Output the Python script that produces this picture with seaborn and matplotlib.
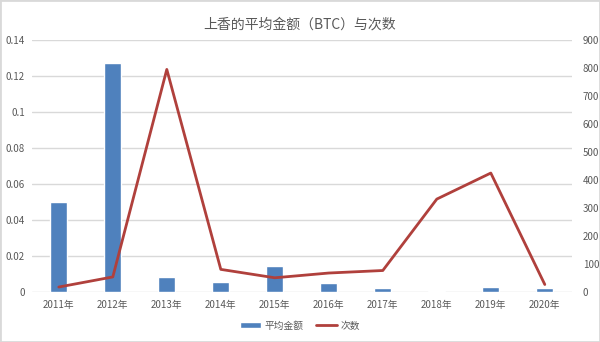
import matplotlib
matplotlib.use("Agg")
import matplotlib.pyplot as plt
import seaborn as sns
import pandas as pd
from matplotlib.patches import Rectangle

years = ["2011年", "2012年", "2013年", "2014年", "2015年",
         "2016年", "2017年", "2018年", "2019年", "2020年"]
avg_amount = [0.050, 0.127, 0.0083, 0.0054, 0.0143,
              0.0048, 0.0022, 0.0006, 0.0026, 0.0020]
counts = [18, 54, 795, 81, 51, 68, 77, 332, 425, 27]

sns.set_theme(style="white")
plt.rcParams["font.family"] = ["Noto Sans CJK SC", "DejaVu Sans"]

df = pd.DataFrame({"year": years, "avg": avg_amount, "count": counts})

BLUE = "#4F81BD"
RED = "#B0403C"
TICK = "#595959"
GRID = "#D9D9D9"

fig = plt.figure(figsize=(6.0, 3.42), dpi=100)
ax = fig.add_axes([0.053, 0.146, 0.900, 0.737])

sns.barplot(data=df, x="year", y="avg", color=BLUE, width=0.32,
            saturation=1, ax=ax, zorder=2, label="平均金额")
ax.set_ylim(0, 0.14)
ax.set_yticks([0, 0.02, 0.04, 0.06, 0.08, 0.1, 0.12, 0.14])
ax.set_yticklabels(["0", "0.02", "0.04", "0.06", "0.08", "0.1", "0.12", "0.14"])
ax.set_xlim(-0.5, len(years) - 0.5)
ax.grid(axis="y", color=GRID, linewidth=1, zorder=0)
ax.set_axisbelow(True)
for s in ax.spines.values():
    s.set_visible(False)
ax.set_xlabel("")
ax.set_ylabel("")
ax.tick_params(axis="x", length=0, labelsize=7, labelcolor=TICK, pad=6)
ax.tick_params(axis="y", length=0, labelsize=7, labelcolor=TICK, pad=5)

ax2 = ax.twinx()
sns.lineplot(data=df, x="year", y="count", color=RED, linewidth=2,
             ax=ax2, sort=False, label="次数", zorder=3)
ax2.set_ylim(0, 900)
ax2.set_yticks(range(0, 1000, 100))
ax2.set_ylabel("")
for s in ax2.spines.values():
    s.set_visible(False)
ax2.tick_params(axis="y", length=0, labelsize=7, labelcolor=TICK, pad=8)
ax2.grid(False)

h1, l1 = ax.get_legend_handles_labels()
h2, l2 = ax2.get_legend_handles_labels()
if ax.get_legend():
    ax.get_legend().remove()
if ax2.get_legend():
    ax2.get_legend().remove()
fig.legend(h1 + h2, l1 + l2, loc="center", bbox_to_anchor=(0.5, 0.048),
           ncol=2, frameon=False, fontsize=7, labelcolor=TICK,
           handlelength=2.2, handleheight=0.5, columnspacing=1.2,
           handletextpad=0.4)

fig.suptitle("上香的平均金额（BTC）与次数", x=0.5, y=0.95,
             fontsize=10, color=TICK)

fig.patches.append(Rectangle((0, 0), 1, 1, transform=fig.transFigure,
                             fill=False, edgecolor=GRID, linewidth=2))

fig.savefig("out.png", dpi=100)
